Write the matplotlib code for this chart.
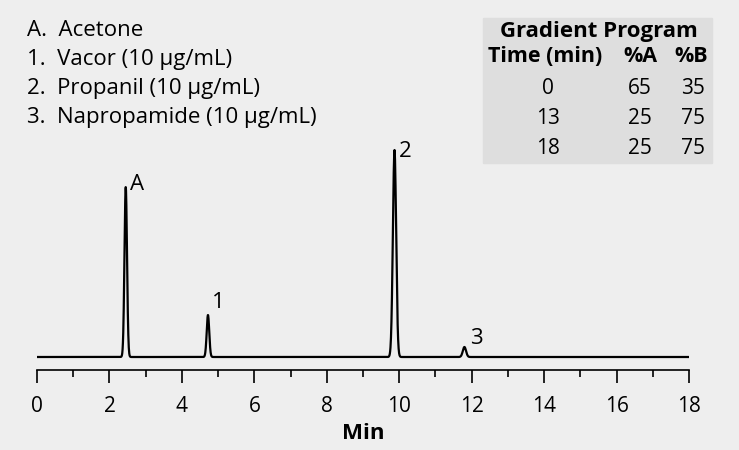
import numpy as np
import matplotlib.pyplot as plt

plt.rcParams['font.family'] = ['Open Sans', 'DejaVu Sans']

# peak data (retention time in min, relative height)
peak_labels = ['A', '1', '2', '3']
peak_times = [2.45, 4.72, 9.87, 11.80]
peak_heights = [170, 42, 207, 10]
peak_widths = [0.035, 0.035, 0.045, 0.045]

legend_lines = ['A.  Acetone', '1.  Vacor (10 µg/mL)', '2.  Propanil (10 µg/mL)',
                '3.  Napropamide (10 µg/mL)']

grad_time = ['0', '13', '18']
grad_a = ['65', '25', '25']
grad_b = ['35', '75', '75']

bg = '#eeeeee'
fig = plt.figure(figsize=(7.39, 4.50), dpi=100, facecolor=bg)
ax = fig.add_axes([37/739, 1-370/450, (689-37)/739, (370-20)/450])
ax.set_facecolor(bg)

t = np.linspace(0, 18, 4000)
sig = np.zeros_like(t)
for tt, h, w in zip(peak_times, peak_heights, peak_widths):
    sig += h * np.exp(-0.5 * ((t - tt) / w) ** 2)
ax.plot(t, sig, color='black', lw=1.6)

offsets = {'A': (0.12, -8), '1': (0.1, 2), '2': (0.12, -12), '3': (0.15, -2)}
for lab, tt, h in zip(peak_labels, peak_times, peak_heights):
    dx, dy = offsets[lab]
    ax.text(tt + dx, h + dy, lab, fontsize=16, va='bottom', ha='left')

ax.set_xlim(0, 18)
ax.set_ylim(-13, 337)
for s in ['left', 'right', 'top']:
    ax.spines[s].set_visible(False)
ax.spines['bottom'].set_linewidth(1.2)
ax.set_yticks([])
ax.set_xticks(range(0, 19, 2))
ax.set_xticks(range(0, 19, 1), minor=True)
ax.tick_params(axis='x', which='major', length=9, width=1.2, labelsize=15, pad=10)
ax.tick_params(axis='x', which='minor', length=5, width=1.2)
ax.set_xlabel('Min', fontsize=16, fontweight='bold', labelpad=4)

for i, line in enumerate(legend_lines):
    fig.text(27/739, 1 - (20 + i * 29) / 450, line, fontsize=16, va='top')

# gradient table
fig.patches.append(plt.Rectangle((483/739, 1-163/450), 229/739, 145/450,
                                 transform=fig.transFigure, color='#dedede', zorder=0))
fig.text(599/739, 1-31/450, 'Gradient Program', fontsize=16, fontweight='bold',
         ha='center', va='center')
hy = 1 - 57/450
fig.text(602/739, hy, 'Time (min)', fontsize=15.5, fontweight='bold', ha='right', va='center')
fig.text(657/739, hy, '%A', fontsize=15.5, fontweight='bold', ha='right', va='center')
fig.text(708/739, hy, '%B', fontsize=15.5, fontweight='bold', ha='right', va='center')
for i in range(3):
    y = 1 - (88 + i * 30) / 450
    fig.text(548/739, y, grad_time[i], fontsize=15, ha='center', va='center')
    fig.text(652/739, y, grad_a[i], fontsize=15, ha='right', va='center')
    fig.text(705/739, y, grad_b[i], fontsize=15, ha='right', va='center')

fig.savefig('out.png', dpi=100, facecolor=bg)
